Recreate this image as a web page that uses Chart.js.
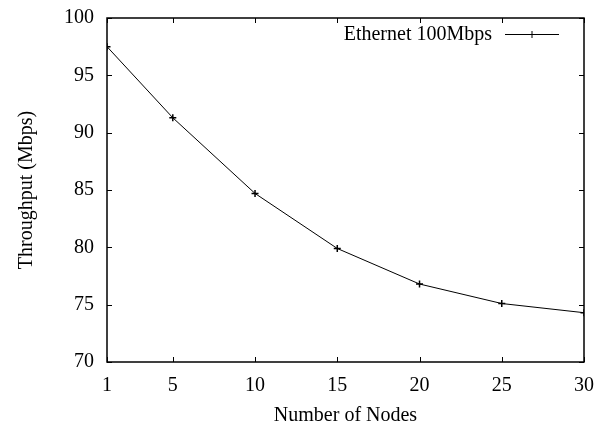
<!DOCTYPE html>
<html>
<head>
<meta charset="utf-8">
<script src="https://cdn.jsdelivr.net/npm/chart.js@4.4.0/dist/chart.umd.min.js"></script>
<style>
  html, body { margin: 0; padding: 0; background: #fff; }
  #wrap { width: 607px; height: 426px; }
</style>
</head>
<body>
<div id="wrap"><canvas id="chart-nodes"></canvas></div>
<script>
// throughput vs number of nodes
var nodes = [1, 5, 10, 15, 20, 25, 30]
var throughput = [97.5, 91.3, 84.7, 79.9, 76.8, 75.1, 74.3]
var xTicks = [1, 5, 10, 15, 20, 25, 30]
var yTicks = [70, 75, 80, 85, 90, 95, 100]
var seriesName = "Ethernet 100Mbps"

var serif = "'Liberation Serif', 'DejaVu Serif', serif"

// box round the plot + inward ticks on all four sides
var frame = {
  id: 'frame',
  afterDatasetsDraw: function (chart) {
    var ctx = chart.ctx
    var a = chart.chartArea
    var xs = chart.scales.x
    var ys = chart.scales.y
    var t = 5
    ctx.save()
    ctx.strokeStyle = '#000'
    ctx.lineWidth = 1
    ctx.beginPath()
    xTicks.forEach(function (v) {
      var px = Math.round(xs.getPixelForValue(v)) + 0.5
      ctx.moveTo(px, a.bottom); ctx.lineTo(px, a.bottom - t)
      ctx.moveTo(px, a.top); ctx.lineTo(px, a.top + t)
    })
    yTicks.forEach(function (v) {
      var py = Math.round(ys.getPixelForValue(v)) + 0.5
      ctx.moveTo(a.left, py); ctx.lineTo(a.left + t, py)
      ctx.moveTo(a.right, py); ctx.lineTo(a.right - t, py)
    })
    ctx.stroke()
    ctx.lineWidth = 1.5
    ctx.strokeRect(a.left, a.top, a.right - a.left, a.bottom - a.top)

    // key, top right inside the box
    var lx1 = a.right - 79, lx2 = a.right - 25, ly = a.top + 16
    ctx.font = '20px ' + serif
    ctx.fillStyle = '#000'
    ctx.textAlign = 'right'
    ctx.textBaseline = 'middle'
    ctx.fillText(seriesName, lx1 - 13, ly + 1)
    ctx.lineWidth = 1
    ctx.beginPath()
    ctx.moveTo(lx1, ly + 0.5); ctx.lineTo(lx2, ly + 0.5)
    var mx = (lx1 + lx2) / 2
    ctx.moveTo(mx, ly - 3); ctx.lineTo(mx, ly + 4)
    ctx.stroke()
    ctx.restore()
  }
}

new Chart(document.getElementById("chart-nodes"), {
  type: 'line',
  data: {
    datasets: [{
      label: seriesName,
      data: nodes.map(function (n, i) { return {x: n, y: throughput[i]} }),
      borderColor: '#000',
      borderWidth: 1,
      pointStyle: 'cross',
      pointRadius: 3.5,
      pointBorderWidth: 1.5,
      pointBorderColor: '#000',
      tension: 0
    }]
  },
  options: {
    responsive: true,
    maintainAspectRatio: false,
    animation: false,
    layout: { padding: { left: 0, right: 23, top: 18, bottom: 0 } },
    plugins: { legend: { display: false }, tooltip: { enabled: false } },
    scales: {
      x: {
        type: 'linear',
        min: 1,
        max: 30,
        afterBuildTicks: function (s) { s.ticks = xTicks.map(function (v) { return {value: v} }) },
        afterFit: function (s) { s.height = 64; s.paddingLeft = 0; s.paddingRight = 0 },
        grid: { display: false, drawTicks: false },
        border: { display: false },
        ticks: { autoSkip: false, maxRotation: 0, padding: 12, color: '#000', font: { family: serif, size: 20 } },
        title: { display: true, text: 'Number of Nodes', color: '#000', padding: { bottom: -2 }, font: { family: serif, size: 20 } }
      },
      y: {
        min: 70,
        max: 100,
        afterBuildTicks: function (s) { s.ticks = yTicks.map(function (v) { return {value: v} }) },
        afterFit: function (s) { s.width = 107; s.paddingTop = 0; s.paddingBottom = 0 },
        grid: { display: false, drawTicks: false },
        border: { display: false },
        ticks: { padding: 13, color: '#000', font: { family: serif, size: 20 } },
        title: { display: true, text: 'Throughput (Mbps)', color: '#000', padding: { top: 15 }, font: { family: serif, size: 20 } }
      }
    }
  },
  plugins: [frame]
})
</script>
</body>
</html>
